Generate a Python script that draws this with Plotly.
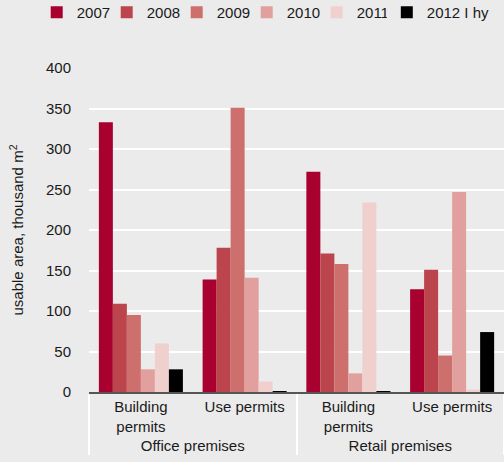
import plotly.graph_objects as go

# ------------------------------------------------------------
# Data
# ------------------------------------------------------------

premises = ["Office premises", "Office premises", "Retail premises", "Retail premises"]
permits = ["Building<br>permits", "Use permits", "Building<br>permits", "Use permits"]

years = ["2007", "2008", "2009", "2010", "2011", "2012 I hy"]

values_2007 = [333, 139, 272, 127]
values_2008 = [109, 178, 171, 151]
values_2009 = [95, 351, 158, 45]
values_2010 = [28, 141, 23, 247]
values_2011 = [60, 13, 234, 3]
values_2012 = [28, 1, 1, 74]

y_ticks = [0, 50, 100, 150, 200, 250, 300, 350, 400]

colors = ["#A8002F", "#BC444C", "#CD6F6D", "#E1A09D", "#EFD0CD", "#000000"]

series = [values_2007, values_2008, values_2009, values_2010, values_2011, values_2012]

# ------------------------------------------------------------
# Figure
# ------------------------------------------------------------

fig = go.Figure()

for i, (name, vals, col) in enumerate(zip(years, series, colors)):
    fig.add_trace(
        go.Bar(
            x=[premises, permits],
            y=vals,
            name=name,
            marker=dict(color=col, line=dict(width=0)),
            # last (wider) label goes to its own legend so it isn't clipped
            legend="legend2" if i == len(years) - 1 else "legend",
        )
    )

legend_style = dict(
    orientation="h",
    xanchor="left",
    y=1.222,
    yanchor="top",
    itemwidth=30,
    traceorder="normal",
    font=dict(size=15),
    bgcolor="rgba(0,0,0,0)",
)

fig.update_layout(
    width=504,
    height=462,
    barmode="group",
    bargap=0.19,
    bargroupgap=0,
    paper_bgcolor="#EBEBEB",
    plot_bgcolor="#EBEBEB",
    font=dict(family="Liberation Sans, Arial, sans-serif", size=15, color="#1a1a1a"),
    margin=dict(l=89, r=0, t=68, b=70, autoexpand=False),
    legend=dict(x=-0.126, entrywidth=25, **legend_style),
    legend2=dict(x=0.7176, **legend_style),
    showlegend=True,
)

fig.update_yaxes(
    range=[0, 400],
    tickvals=y_ticks,
    automargin=False,
    showgrid=True,
    gridcolor="#FFFFFF",
    gridwidth=1.5,
    zeroline=False,
    showline=False,
    ticks="",
    ticklabelstandoff=17,
    title=dict(text="usable area, thousand m<sup>2</sup>", standoff=18, font=dict(size=15)),
)

fig.update_xaxes(
    automargin=False,
    showline=True,
    linecolor="#555555",
    linewidth=2,
    showgrid=False,
    showdividers=True,
    dividercolor="#FFFFFF",
    dividerwidth=2,
    tickson="boundaries",
    ticks="",
)

# page body has a default margin; remove it so the figure fills the window
fig.write_html(
    "out.html",
    config={"displayModeBar": False},
    post_script="document.body.style.margin='0';",
)
